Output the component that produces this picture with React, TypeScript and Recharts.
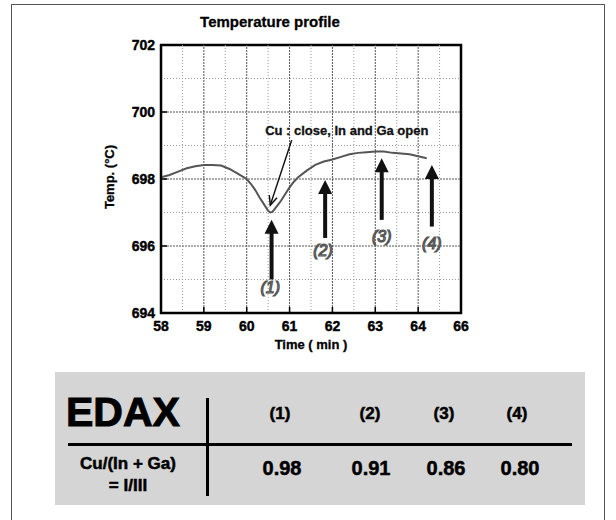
import React from 'react';
import { LineChart, Line, XAxis, YAxis, ReferenceLine, ReferenceDot, ReferenceArea } from 'recharts';

// ---- data ----
const timeMin = [58.0, 58.2, 58.4, 58.6, 58.8, 59.0, 59.2, 59.4, 59.6, 59.8, 60.0, 60.1, 60.2, 60.3, 60.4, 60.5, 60.55, 60.6, 60.7, 60.8, 60.9, 61.0, 61.1, 61.2, 61.4, 61.6, 61.8, 62.0, 62.2, 62.4, 62.6, 62.8, 63.0, 63.2, 63.4, 63.6, 63.8, 64.0, 64.2];
const tempC = [698.05, 698.12, 698.22, 698.32, 698.38, 698.42, 698.42, 698.4, 698.3, 698.15, 698.0, 697.85, 697.67, 697.45, 697.25, 697.05, 697.0, 697.02, 697.18, 697.35, 697.55, 697.75, 697.92, 698.05, 698.25, 698.42, 698.52, 698.58, 698.66, 698.74, 698.78, 698.8, 698.82, 698.82, 698.78, 698.76, 698.74, 698.68, 698.62];

const xTicks = [58, 59, 60, 61, 62, 63, 64, 65];
const xTickLabels = ['58', '59', '60', '61', '62', '63', '64', '66'];
const yTicks = [694, 696, 698, 700, 702];
const xMinorTicks = [58.2, 58.4, 58.6, 58.8, 59.2, 59.4, 59.6, 59.8, 60.2, 60.4, 60.6, 60.8, 61.2, 61.4, 61.6, 61.8, 62.2, 62.4, 62.6, 62.8, 63.2, 63.4, 63.6, 63.8, 64.2, 64.4, 64.6, 64.8];
const yMinorTicks = [694.33, 694.67, 695, 695.33, 695.67, 696.33, 696.67, 697, 697.33, 697.67, 698.33, 698.67, 699, 699.33, 699.67, 700.33, 700.67, 701, 701.33, 701.67];
const xMajorGrid = [59, 60, 61, 62, 63, 64];
const xMinorGrid = [58.5, 59.5, 60.5, 61.5, 62.5, 63.5, 64.5];
const yMajorGrid = [696, 698, 700];
const yMinorGrid = [695, 697, 699, 701];

// arrows: position (min), tail and tip temperatures, label and label temperature
const arrowLabels = ['(1)', '(2)', '(3)', '(4)'];
const arrowTime = [60.58, 61.83, 63.15, 64.32];
const arrowTail = [695.0, 696.24, 696.78, 696.58];
const arrowTip = [696.78, 697.97, 698.62, 698.42];
const labelTime = [60.55, 61.78, 63.15, 64.32];
const labelTemp = [694.75, 695.88, 696.28, 696.08];

const noteText = 'Cu : close, In and Ga open';
const notePos = { x: 60.43, y: 699.46 };
const notePointer = [{ x: 61.05, y: 699.16 }, { x: 60.55, y: 697.22 }];

// EDAX table
const edaxColumns = ['(1)', '(2)', '(3)', '(4)'];
const edaxRatios = ['0.98', '0.91', '0.86', '0.80'];

const data = timeMin.map((t, i) => ({ t, temp: tempC[i] }));

const FONT = '"Liberation Sans", Arial, Helvetica, sans-serif';

const BigArrow = (p: any) => {
  const { x1, y1, x2, y2 } = p;
  const head = 14;
  const half = 7;
  return (
    <g>
      <line x1={x1} y1={y1} x2={x2} y2={y2 + head - 1} stroke="#111" strokeWidth={4} />
      <polygon points={`${x2},${y2} ${x2 - half},${y2 + head} ${x2 + half},${y2 + head}`} fill="#111" />
    </g>
  );
};

const Pointer = (p: any) => {
  const { x1, y1, x2, y2 } = p;
  const ang = Math.atan2(y2 - y1, x2 - x1);
  const L = 10;
  const a = 0.42;
  const p1 = `${x2 - L * Math.cos(ang - a)},${y2 - L * Math.sin(ang - a)}`;
  const p2 = `${x2 - L * Math.cos(ang + a)},${y2 - L * Math.sin(ang + a)}`;
  return (
    <g>
      <line x1={x1} y1={y1} x2={x2} y2={y2} stroke="#111" strokeWidth={1.5} />
      <polyline points={`${p1} ${x2},${y2} ${p2}`} fill="none" stroke="#111" strokeWidth={1.5} />
    </g>
  );
};

const makeLabel = (text: string) => (p: any) => (
  <text x={p.cx} y={p.cy} textAnchor="middle" dominantBaseline="central" fontFamily={FONT} fontSize={16} fontStyle="italic" fill="#ddd" stroke="#555" strokeWidth={1.2}>
    {text}
  </text>
);

const NoteShape = (p: any) => (
  <text x={p.cx} y={p.cy} textAnchor="start" dominantBaseline="central" fontFamily={FONT} fontSize={13} fontWeight="bold" fill="#111" stroke="#111" strokeWidth={0.3}>
    {noteText}
  </text>
);

const tickStyle = { fontFamily: FONT, fontSize: 14, fontWeight: 'bold', fill: '#000', stroke: '#000', strokeWidth: 0.4 } as any;
const heavy = { WebkitTextStroke: '0.5px #000' } as any;

export default function App() {
  return (
    <div style={{ position: 'absolute', left: 0, top: 0, width: 616, height: 520, background: '#fff', fontFamily: FONT, overflow: 'hidden' }}>
      {/* page frame */}
      <div style={{ position: 'absolute', left: 11, top: 4, width: 592, height: 530, border: '1px solid #555', borderBottom: 'none' }} />

      <div style={{ position: 'absolute', left: 0, top: 12, width: 540, textAlign: 'center', fontSize: 15, fontWeight: 'bold', lineHeight: '20px', color: '#000', ...heavy, WebkitTextStroke: '0.3px #000' }}>
        Temperature profile
      </div>

      <div style={{ position: 'absolute', left: 0, top: 0 }}>
        <LineChart width={616} height={360} data={data} margin={{ top: 45, right: 155, bottom: 17, left: 111 }}>
          <XAxis xAxisId="minor" dataKey="t" type="number" domain={[58, 65]} ticks={xMinorTicks} tick={false} tickSize={-3} height={0} axisLine={false} tickLine={{ stroke: '#000', strokeWidth: 1.2 }} allowDataOverflow />
          <YAxis yAxisId="minor" type="number" domain={[694, 702]} ticks={yMinorTicks} tick={false} tickSize={-3} width={0} axisLine={false} tickLine={{ stroke: '#000', strokeWidth: 1.2 }} allowDataOverflow />
          <XAxis dataKey="t" type="number" domain={[58, 65]} ticks={xTicks} tickFormatter={(v: number) => xTickLabels[xTicks.indexOf(v)]} tickSize={-6} tickMargin={14} height={30} axisLine={{ stroke: '#000', strokeWidth: 2 }} tickLine={{ stroke: '#000', strokeWidth: 1.5 }} tick={tickStyle} allowDataOverflow />
          <YAxis type="number" domain={[694, 702]} ticks={yTicks} tickSize={-6} tickMargin={12} width={50} axisLine={{ stroke: '#000', strokeWidth: 2 }} tickLine={{ stroke: '#000', strokeWidth: 1.5 }} tick={tickStyle} allowDataOverflow />

          {xMinorGrid.map((v) => (
            <ReferenceLine key={`xm${v}`} x={v} stroke="#999" strokeWidth={1} strokeDasharray="1 2" />
          ))}
          {yMinorGrid.map((v) => (
            <ReferenceLine key={`ym${v}`} y={v} stroke="#999" strokeWidth={1} strokeDasharray="1 2" />
          ))}
          {xMajorGrid.map((v) => (
            <ReferenceLine key={`xM${v}`} x={v} stroke="#555" strokeWidth={1} strokeDasharray="2 1" />
          ))}
          {yMajorGrid.map((v) => (
            <ReferenceLine key={`yM${v}`} y={v} stroke="#555" strokeWidth={1} strokeDasharray="2 1" />
          ))}
          <ReferenceArea x1={58} x2={65} y1={694} y2={702} fill="none" fillOpacity={0} stroke="#000" strokeWidth={2.5} />

          <Line type="linear" dataKey="temp" stroke="#555" strokeWidth={2} dot={false} isAnimationActive={false} />

          {arrowTime.map((t, i) => (
            <ReferenceLine key={`ar${i}`} segment={[{ x: t, y: arrowTail[i] }, { x: t, y: arrowTip[i] }]} shape={BigArrow} />
          ))}
          {labelTime.map((t, i) => (
            <ReferenceDot key={`lb${i}`} x={t} y={labelTemp[i]} r={1} shape={makeLabel(arrowLabels[i])} />
          ))}
          <ReferenceLine segment={notePointer} shape={Pointer} />
          <ReferenceDot x={notePos.x} y={notePos.y} r={1} shape={NoteShape} />
        </LineChart>
      </div>

      {/* axis titles */}
      <div style={{ position: 'absolute', left: 110, top: 177, transform: 'translate(-50%, -50%) rotate(-90deg)', fontSize: 13, fontWeight: 'bold', whiteSpace: 'nowrap', lineHeight: '16px', WebkitTextStroke: '0.3px #000' }}>
        Temp. (°C)
      </div>
      <div style={{ position: 'absolute', left: 311, top: 345, transform: 'translate(-50%, -50%)', fontSize: 13, fontWeight: 'bold', whiteSpace: 'nowrap', lineHeight: '16px', WebkitTextStroke: '0.3px #000' }}>
        Time ( min )
      </div>

      {/* EDAX table */}
      <div style={{ position: 'absolute', left: 55, top: 372, width: 530, height: 133, background: '#d5d5d5' }} />
      <div style={{ position: 'absolute', left: 66, top: 392, fontSize: 41, fontWeight: 'bold', lineHeight: 1, color: '#000', WebkitTextStroke: '1px #000' }}>EDAX</div>
      <div style={{ position: 'absolute', left: 206, top: 398, width: 3, height: 98, background: '#000' }} />
      <div style={{ position: 'absolute', left: 68, top: 443, width: 504, height: 3, background: '#000' }} />
      {edaxColumns.map((c, i) => (
        <div key={c} style={{ position: 'absolute', left: [280, 370, 444, 517][i], top: 405, transform: 'translateX(-50%)', fontSize: 17, fontWeight: 'bold', lineHeight: 1, ...heavy }}>{c}</div>
      ))}
      {edaxRatios.map((v, i) => (
        <div key={v} style={{ position: 'absolute', left: [282, 371, 446, 520][i], top: 458, transform: 'translateX(-50%)', fontSize: 20, fontWeight: 'bold', lineHeight: 1, ...heavy }}>{v}</div>
      ))}
      <div style={{ position: 'absolute', left: 62, top: 453, width: 132, textAlign: 'center', fontSize: 17, fontWeight: 'bold', lineHeight: '22px', ...heavy }}>
        Cu/(In + Ga)<br />= I/III
      </div>
    </div>
  );
}
